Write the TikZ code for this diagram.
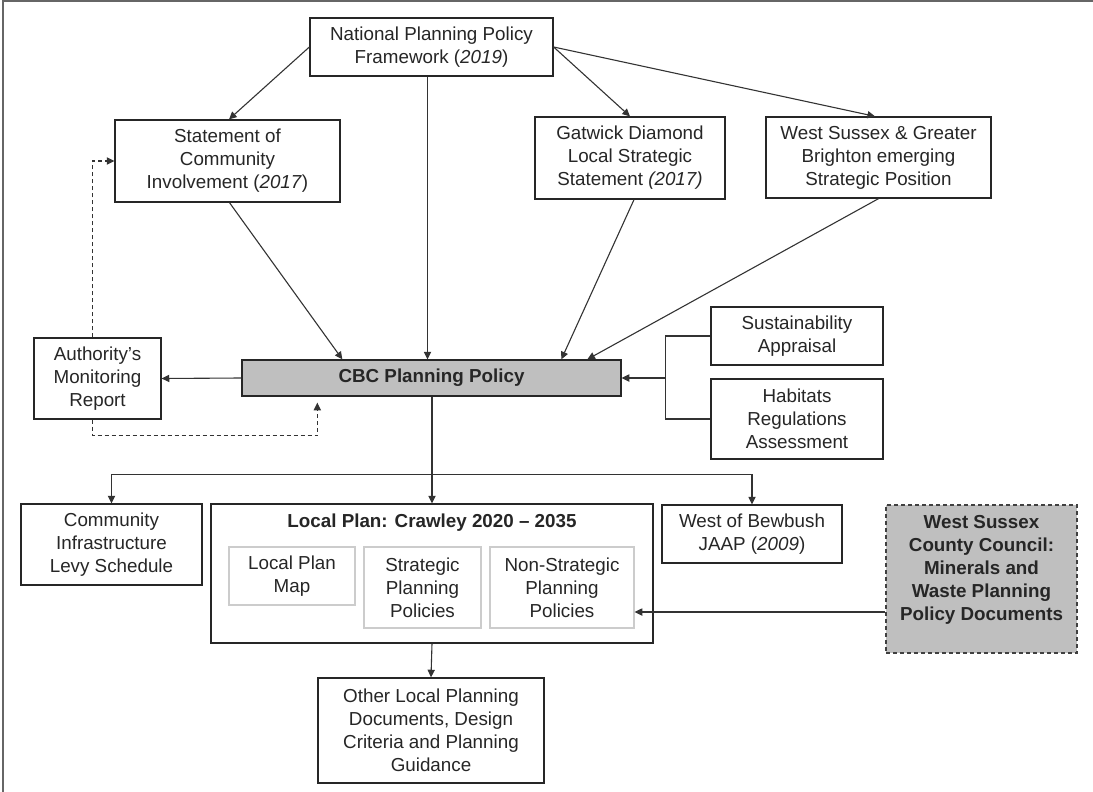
\documentclass[tikz,border=0pt]{standalone}
\usepackage{fontspec}
\setmainfont{Liberation Sans}
\usetikzlibrary{arrows.meta,calc}
\begin{document}
\begin{tikzpicture}[x=0.5pt,y=-0.5pt,
  every node/.style={font=\fontsize{9.4pt}{11.5pt}\selectfont, text=black!85, inner sep=0pt},
  bf/.style={font=\fontsize{9.4pt}{11.5pt}\selectfont\bfseries, align=center},
  box/.style={draw=black!85, line width=0.65pt, fill=white, align=center},
  inbox/.style={draw=black!20, line width=0.65pt, align=center},
  conn/.style={draw=black!80, line width=0.55pt},
  arr/.style={conn, -{Triangle[length=3.8pt,width=3.6pt]}},
  dsh/.style={dash pattern=on 2pt off 1.5pt}]
\useasboundingbox (0,0) rectangle (1093,792);
\draw[black!60, line width=1pt] (1093,1) -- (2.5,1) -- (2.5,792);

\node[box, minimum width=121.5pt, minimum height=29pt] (nppf) at (431.5,47) {National Planning Policy\\Framework (\textit{2019})};
\node[box, minimum width=112.5pt, minimum height=41pt] (sci) at (227.5,161) {Statement of\\Community\\Involvement (\textit{2017})};
\node[box, minimum width=95pt, minimum height=41pt] (gat) at (630,158) {Gatwick Diamond\\Local Strategic\\Statement \textit{(2017)}};
\node[box, minimum width=112.5pt, minimum height=40.5pt] (wsgb) at (878.5,157.5) {West Sussex \& Greater\\Brighton emerging\\Strategic Position};
\node[box, minimum width=63.5pt, minimum height=40.5pt] (amr) at (97.5,378.5) {Authority’s\\Monitoring\\Report};
\node[box, bf, fill=gray!50, minimum width=189.5pt, minimum height=18pt] (cbc) at (431.5,378) {CBC Planning Policy};
\node[box, minimum width=86pt, minimum height=29pt] (sa) at (797,336) {Sustainability\\Appraisal};
\node[box, minimum width=86pt, minimum height=40pt] (hra) at (797,419) {Habitats\\Regulations\\Assessment};
\node[box, minimum width=90.5pt, minimum height=40.5pt] (cil) at (111.5,544.5) {Community\\Infrastructure\\Levy Schedule};
\node[box, minimum width=221pt, minimum height=69.5pt] (lp) at (432,573.5) {};
\node[bf] (lptitle) at (432,523) {Local Plan: Crawley 2020 – 2035};
\node[inbox, minimum width=63pt, minimum height=29pt] (lpm) at (292,576) {Local Plan\\Map};
\node[inbox, minimum width=58.5pt, minimum height=40.5pt] (spp) at (422.5,587.5) {Strategic\\Planning\\Policies};
\node[inbox, minimum width=72pt, minimum height=40.5pt] (nspp) at (562,587.5) {Non-Strategic\\Planning\\Policies};
\node[box, minimum width=90pt, minimum height=29pt] (wob) at (752,534) {West of Bewbush\\JAAP (\textit{2009})};
\node[box, dsh, draw=black!75, fill=gray!50, minimum width=95.5pt, minimum height=74pt] (wscc) at (981.5,579) {};
\node[bf] (wscctext) at (981.5,570) {West Sussex\\County Council:\\Minerals and\\Waste Planning\\Policy Documents};
\node[box, minimum width=113pt, minimum height=52.5pt] (oth) at (431,730.5) {Other Local Planning\\Documents, Design\\Criteria and Planning\\Guidance};

\draw[arr] (nppf.west) -- ([xshift=0.75pt]sci.north);
\draw[arr] (nppf.east) -- (gat.north);
\draw[arr] (nppf.east) -- ([xshift=-1.75pt]wsgb.north);
\draw[arr] ([xshift=-2pt]nppf.south) -- ([xshift=-2pt]cbc.north);
\draw[arr] ([xshift=1pt]sci.south) -- ([xshift=50.5pt]cbc.north west);
\draw[arr] ([xshift=2pt]gat.south) -- ([xshift=160pt]cbc.north west);
\draw[arr] (wsgb.south) -- ([xshift=173pt]cbc.north west);
\draw[arr] (cbc.west) -- (amr.east);
\draw[conn] (sa.west) -- ++(-45,0) coordinate (br) |- (hra.west);
\draw[arr] (br |- cbc.east) -- (cbc.east);
\draw[arr, dsh] ([xshift=-2.5pt]amr.north) |- (sci.west);
\draw[arr, dsh] ([xshift=-2.5pt]amr.south) -- ++(0,16) -| ([xshift=38pt,yshift=-3pt]cbc.south west);
\draw[conn] ([xshift=0.25pt]cbc.south) -- ++(0,78) coordinate (j);
\draw[arr] (j) -- (lp.north);
\draw[arr] (j) -| (cil.north);
\draw[arr] (j) -| (wob.north);
\draw[arr] (lp.south) -- (oth.north);
\coordinate (wa) at ([yshift=-16.5pt]wscc.west);
\draw[arr] (wa) -- (wa -| nspp.east);
\end{tikzpicture}
\end{document}
